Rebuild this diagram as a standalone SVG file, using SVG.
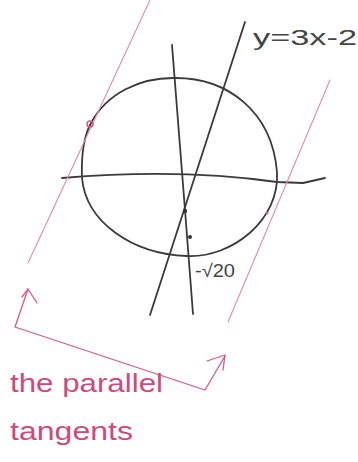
<svg xmlns="http://www.w3.org/2000/svg" width="358" height="462" viewBox="0 0 358 462">
<style>
.ink{fill:none;stroke:#3a3a3a;stroke-width:1.8;stroke-linecap:round;stroke-linejoin:round}
.pink{fill:none;stroke:#d9588a;stroke-width:1.3;stroke-linecap:round;stroke-linejoin:round}
.pinkfaint{fill:none;stroke:#e58aab;stroke-width:1.1;stroke-linecap:round}
.lab{font-family:"Liberation Sans",Arial,sans-serif;fill:#444}
.plab{font-family:"Liberation Sans",Arial,sans-serif;fill:#cf4a7c}
</style>
<rect width="358" height="462" fill="#ffffff"/>
<g id="circle">
<path class="ink" d="M82,178 C81,152 85,134 91,123 C107,93 140,78 173,78 C228,77 272,112 277,172 C280,220 232,258 187,256 C132,254 86,222 82,178"/>
</g>
<g id="connectors">
<path id="x-axis" class="ink" d="M62,178 Q180,168 277,182 L303,183 L325,178" stroke-width="1.4"/>
<path id="y-axis" class="ink" d="M172,45 L185,210 L193,314" stroke-width="1.5"/>
<path id="line" class="ink" d="M245,22 L150,315"/>
<path id="tangent-left" class="pinkfaint" d="M150,0 L28,263"/>
<path id="tangent-right" class="pinkfaint" d="M330,80 L228,322"/>
<path id="bracket" class="pink" d="M28,289 L15,327 L205,390 L225,356"/>
<path class="pink" d="M22,297 L28,289 L37,303"/>
<path class="pink" d="M207,361 L225,355 L223,370"/>
</g>
<g id="points">
<circle cx="90" cy="124" r="3" fill="none" stroke="#d9588a" stroke-width="1.5"/>
<circle cx="267" cy="213" r="1.5" fill="#d9588a"/>
<circle cx="185" cy="211" r="2.2" fill="#333"/>
<circle cx="190" cy="237" r="2" fill="#333"/>
</g>
<g id="label-line">
<text class="lab" x="253" y="45" font-size="22" textLength="104" lengthAdjust="spacingAndGlyphs">y=3x-2</text>
</g>
<g id="label-root">
<text class="lab" x="195" y="277" font-size="18" textLength="40" lengthAdjust="spacingAndGlyphs">-√20</text>
</g>
<g id="label-tangents">
<text class="plab" x="10" y="392" font-size="26" textLength="153" lengthAdjust="spacingAndGlyphs">the parallel</text>
<text class="plab" x="10" y="440" font-size="26" textLength="123" lengthAdjust="spacingAndGlyphs">tangents</text>
</g>
</svg>
